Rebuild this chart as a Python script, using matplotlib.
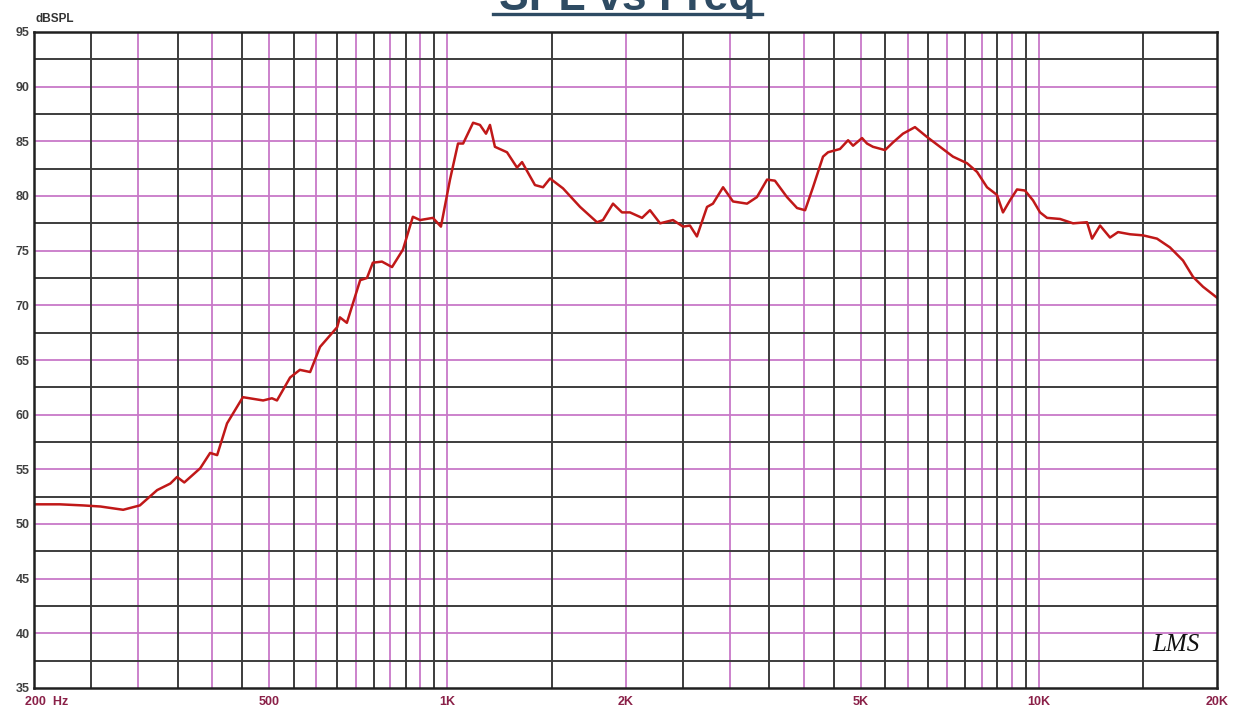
import numpy as np
import matplotlib
matplotlib.use("Agg")
import matplotlib.pyplot as plt
from matplotlib.lines import Line2D

# SPL response (Hz, dB SPL)
freq = [200, 221, 242, 259, 283, 302, 323, 340, 349, 359, 382, 397, 408, 424,
        451, 488, 505, 515, 542, 563, 586, 609, 651, 658, 676, 712, 731, 748,
        775, 806, 841, 874, 899, 945, 975, 1010, 1042, 1063, 1105, 1135, 1162,
        1180, 1203, 1261, 1311, 1337, 1406, 1451, 1491, 1568, 1676, 1790, 1832,
        1905, 1973, 2035, 2133, 2200, 2288, 2406, 2502, 2570, 2641, 2747, 2811,
        2924, 3039, 3210, 3336, 3470, 3578, 3750, 3900, 4024, 4150, 4315, 4400,
        4609, 4757, 4850, 5022, 5120, 5241, 5493, 5666, 5890, 6172, 6467, 6804,
        7156, 7558, 7860, 8170, 8492, 8694, 8933, 9182, 9471, 9772, 10043,
        10320, 10854, 11419, 12058, 12297, 12686, 13188, 13606, 14258, 14998,
        15834, 16652, 17520, 18220, 18940, 20000]
spl = [51.8, 51.8, 51.7, 51.6, 51.3, 51.7, 53.1, 53.7, 54.3, 53.8, 55.1, 56.5,
       56.3, 59.2, 61.6, 61.3, 61.5, 61.3, 63.4, 64.1, 63.9, 66.2, 68.0, 68.9,
       68.4, 72.3, 72.5, 73.9, 74.0, 73.5, 75.1, 78.1, 77.8, 78.0, 77.2, 81.5,
       84.8, 84.8, 86.7, 86.5, 85.7, 86.5, 84.5, 84.0, 82.6, 83.1, 81.0, 80.8,
       81.6, 80.7, 79.0, 77.6, 77.8, 79.3, 78.5, 78.5, 78.0, 78.7, 77.5, 77.8,
       77.2, 77.3, 76.3, 79.0, 79.3, 80.8, 79.5, 79.3, 79.9, 81.5, 81.4, 79.9,
       78.9, 78.7, 80.8, 83.6, 84.0, 84.3, 85.1, 84.6, 85.3, 84.8, 84.5, 84.2,
       84.9, 85.7, 86.3, 85.4, 84.5, 83.6, 83.0, 82.2, 80.8, 80.1, 78.5, 79.6,
       80.6, 80.5, 79.6, 78.5, 78.0, 77.9, 77.5, 77.6, 76.1, 77.3, 76.2, 76.7,
       76.5, 76.4, 76.1, 75.3, 74.1, 72.6, 71.7, 70.7]

xtick_vals = [200, 500, 1000, 2000, 5000, 10000, 20000]
xtick_labels = ["200  Hz", "500", "1K", "2K", "5K", "10K", "20K"]
ytick_vals = list(range(35, 96, 5))

# grid: dark lines on the odd half-steps, pink lines on the round values
dark_v = list(range(250, 1000, 100)) + list(range(1500, 10000, 1000)) + [15000]
pink_v = list(range(300, 1001, 100)) + list(range(2000, 10001, 1000))
dark_h = [37.5 + 5 * i for i in range(12)]
pink_h = list(range(40, 91, 5))

W, H = 1243, 711
fig = plt.figure(figsize=(W / 100, H / 100), dpi=100)
ax = fig.add_axes([34 / W, 1 - 688 / H, (1217 - 34) / W, (688 - 32) / H])
ax.set_xscale("log")
ax.set_xlim(200, 20000)
ax.set_ylim(35, 95)

pink = "#c878c8"
dark = "#3c3c3c"
for v in pink_v:
    ax.axvline(v, color=pink, lw=1.3, zorder=1)
for v in pink_h:
    ax.axhline(v, color=pink, lw=1.3, zorder=1)
for v in dark_v:
    ax.axvline(v, color=dark, lw=1.4, zorder=2)
for v in dark_h:
    ax.axhline(v, color=dark, lw=1.4, zorder=2)

ax.plot(freq, spl, color="#c01818", lw=1.8, zorder=3)

for s in ax.spines.values():
    s.set_linewidth(1.8)
    s.set_color("#202020")
    s.set_zorder(4)

ax.set_xticks(xtick_vals)
ax.set_xticklabels(xtick_labels)
ax.xaxis.set_minor_locator(matplotlib.ticker.NullLocator())
ax.set_yticks(ytick_vals)
ax.tick_params(length=0)
ax.tick_params(axis="x", pad=6, labelsize=9, labelcolor="#8a2048")
ax.tick_params(axis="y", pad=3, labelsize=9, labelcolor="#404040")
for lab in ax.get_xticklabels() + ax.get_yticklabels():
    lab.set_fontweight("bold")
    lab.set_family("Liberation Sans")
first = ax.get_xticklabels()[0]
first.set_ha("left")
first.set_x(first.get_position()[0])
first.set_transform(first.get_transform() + matplotlib.transforms.ScaledTranslation(-9 / 100, 0, fig.dpi_scale_trans))

fig.text(36 / W, 1 - 22 / H, "dBSPL", fontsize=8.5, fontweight="bold",
         color="#333333", family="Liberation Sans", va="baseline")

title_col = "#2e4b63"
fig.text(627 / W, 1 - 10 / H, "SPL vs Freq", fontsize=32, fontweight="bold",
         color=title_col, family="Liberation Sans", ha="center", va="baseline")
fig.add_artist(Line2D([493 / W, 762 / W], [1 - 14 / H, 1 - 14 / H],
                      transform=fig.transFigure, color=title_col, lw=2.4))

ax.text(0.985, 0.065, "LMS", transform=ax.transAxes, fontsize=18,
        fontstyle="italic", family="Liberation Serif", color="#111111",
        ha="right", va="center", zorder=5)

fig.savefig("out.png", dpi=100)
